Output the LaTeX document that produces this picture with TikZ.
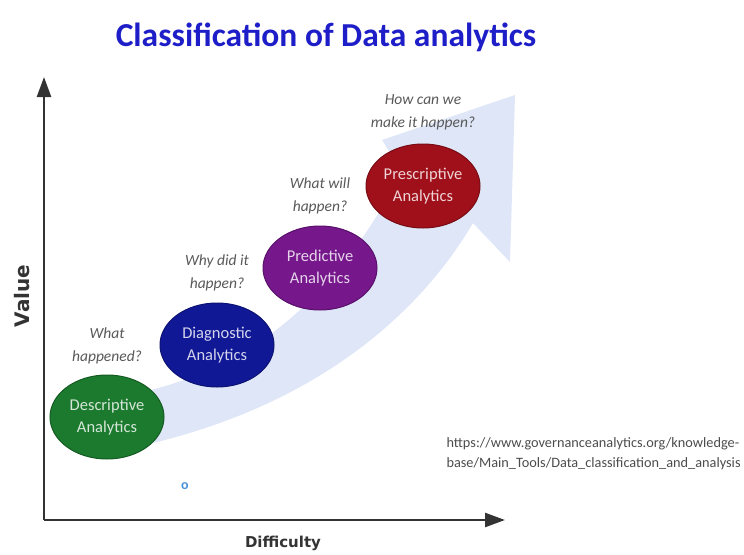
\documentclass[tikz,border=0pt]{standalone}
\usepackage{fontspec}
\setmainfont{Carlito}
\newfontfamily\axisfont{DejaVu Sans}
\usetikzlibrary{shapes.geometric,arrows.meta}
\definecolor{titleblue}{HTML}{1E1EC8}
\definecolor{bandblue}{HTML}{DEE6F7}
\definecolor{axisgray}{HTML}{333333}
\definecolor{qgray}{HTML}{595959}
\definecolor{descgreen}{HTML}{1B7A2E}
\definecolor{diagblue}{HTML}{101896}
\definecolor{predpurple}{HTML}{76178C}
\definecolor{prescred}{HTML}{A0101A}
\definecolor{dotblue}{HTML}{4A90D9}
\tikzset{
  stage/.style={ellipse,minimum width=114pt,minimum height=84pt,inner sep=0pt,
    align=center,fill=#1,draw=#1!75!black,line width=1pt,text=white!82!#1,
    font=\fontsize{16.5}{22}\selectfont},
  question/.style={align=center,text=qgray,font=\fontsize{15.5}{23}\selectfont\itshape},
  axis/.style={line width=2.5pt,draw=axisgray,-{Triangle[length=20pt,width=14pt]}}
}
\begin{document}
\begin{tikzpicture}[x=1pt,y=-1pt]
\useasboundingbox (0,0) rectangle (744,554);
\node[text=titleblue,font=\fontsize{33.5}{33.5}\selectfont\bfseries] (title) at (326,37) {Classification of Data analytics};
\fill[bandblue] (110,452) .. controls (290,420) and (410,330) .. (473,223) -- (510,262) -- (515,95)
  -- (382,140) -- (402,172) .. controls (350,270) and (270,375) .. (110,398) -- cycle;
\coordinate (origin) at (44,520);
\coordinate (vtop) at (44,77);
\coordinate (hend) at (505,520);
\draw[axis] (origin) -- (vtop);
\draw[axis] (origin) -- (hend);
\node[rotate=90,font=\axisfont\fontsize{20}{20}\selectfont\bfseries,text=axisgray] (value) at (22,296) {Value};
\node[font=\axisfont\fontsize{15}{15}\selectfont\bfseries,text=axisgray] (difficulty) at (283,543) {Difficulty};
\node[stage=descgreen] (descriptive) at (107,417) {Descriptive\\Analytics};
\node[stage=diagblue] (diagnostic) at (217,345) {Diagnostic\\Analytics};
\node[stage=predpurple] (predictive) at (320,268) {Predictive\\Analytics};
\node[stage=prescred] (prescriptive) at (423,186) {Prescriptive\\Analytics};
\node[question] (qdesc) at (107,346) {What\\happened?};
\node[question] (qdiag) at (217,273) {Why did it\\happen?};
\node[question] (qpred) at (320,196) {What will\\happen?};
\node[question] (qpresc) at (423,112) {How can we\\make it happen?};
\node[text=dotblue,font=\fontsize{14}{14}\selectfont\bfseries] (dot) at (185,486) {o};
\node[align=left,anchor=west,text=qgray!85!black,font=\fontsize{14.3}{20}\selectfont] (source) at (443,454)
  {https://www.governanceanalytics.org/knowledge-\\base/Main\_Tools/Data\_classification\_and\_analysis};
\end{tikzpicture}
\end{document}
